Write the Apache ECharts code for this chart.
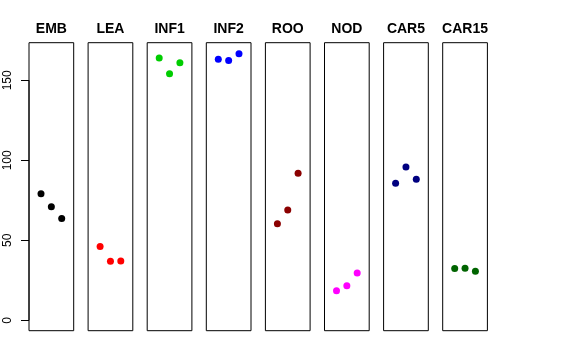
<!DOCTYPE html>
<html><head><meta charset="utf-8">
<script src="https://cdn.jsdelivr.net/npm/echarts@6/dist/echarts.min.js"></script>
<style>html,body{margin:0;padding:0;background:#fff}#c{width:576px;height:360px}</style>
</head><body><div id="c"></div>
<script>
var categories = ['EMB','LEA','INF1','INF2','ROO','NOD','CAR5','CAR15'];
var positions = [1, 2, 3];
var EMB = [79.1, 71.0, 63.7];
var LEA = [46.2, 36.9, 37.1];
var INF1 = [164.0, 154.1, 161.0];
var INF2 = [163.1, 162.3, 166.6];
var ROO = [60.4, 68.9, 91.9];
var NOD = [18.5, 21.6, 29.6];
var CAR5 = [85.6, 95.8, 88.1];
var CAR15 = [32.3, 32.5, 30.6];
var yTicks = [0, 50, 100, 150];
var colors = ['#000000','#FF0000','#00CD00','#0000FF','#8B0000','#FF00FF','#000080','#006400'];
var seriesValues = [EMB, LEA, INF1, INF2, ROO, NOD, CAR5, CAR15];

var chart = echarts.init(document.getElementById('c'), null, {renderer:'canvas'});
var grids = [], xAxes = [], yAxes = [], series = [];
var LEFT0 = 29, STEP = 59.1, PW = 44.7, PTOP = 42.7, PH = 288;
var FONT = 'Liberation Sans, Arial, sans-serif';
categories.forEach(function(cat, i){
  var l = LEFT0 + i*STEP;
  grids.push({left: l, top: PTOP, width: PW, height: PH, show: true, borderColor: '#000', borderWidth: 1, backgroundColor: 'transparent'});
  xAxes.push({type:'value', gridIndex:i, min:-0.16, max:4.16, show:false});
  yAxes.push({type:'value', gridIndex:i, min:-6.5, max:173.5, show:false});
  series.push({
    type:'scatter', xAxisIndex:i, yAxisIndex:i, symbol:'circle', symbolSize:7,
    itemStyle:{color: colors[i], opacity:1},
    data: positions.map(function(p, k){ return [p, seriesValues[i][k]]; }),
    silent:true
  });
});
chart.setOption({animation:false, grid:grids, xAxis:xAxes, yAxis:yAxes, series:series});

var g = [];
// panel titles, centred over each panel
categories.forEach(function(cat, i){
  var a = chart.convertToPixel({xAxisIndex:i, yAxisIndex:i}, [-0.16, 0]);
  var b = chart.convertToPixel({xAxisIndex:i, yAxisIndex:i}, [4.16, 0]);
  g.push({type:'text', x:(a[0]+b[0])/2, y:29.5,
    style:{text:cat, fill:'#000', font:'bold 14px ' + FONT, align:'center', verticalAlign:'middle'}, silent:true});
});
// y axis ticks and labels on the first panel, positioned by the library's scale
yTicks.forEach(function(v){
  var p = chart.convertToPixel({xAxisIndex:0, yAxisIndex:0}, [-0.16, v]);
  var yy = Math.round(p[1]) + 0.5;
  g.push({type:'line', shape:{x1:p[0]-8, y1:yy, x2:p[0], y2:yy}, style:{stroke:'#000', lineWidth:1}, silent:true});
  g.push({type:'text', x:p[0]-15, y:p[1], rotation:Math.PI/2,
    style:{text:String(v), fill:'#000', font:'12px ' + FONT, align:'center', verticalAlign:'bottom'}, silent:true});
});
var p0 = chart.convertToPixel({xAxisIndex:0, yAxisIndex:0}, [-0.16, yTicks[0]]);
var p1 = chart.convertToPixel({xAxisIndex:0, yAxisIndex:0}, [-0.16, yTicks[yTicks.length-1]]);
g.push({type:'line', shape:{x1:p0[0], y1:p0[1], x2:p1[0], y2:p1[1]}, style:{stroke:'#000', lineWidth:1}, silent:true});
chart.setOption({graphic: g});
</script></body></html>
